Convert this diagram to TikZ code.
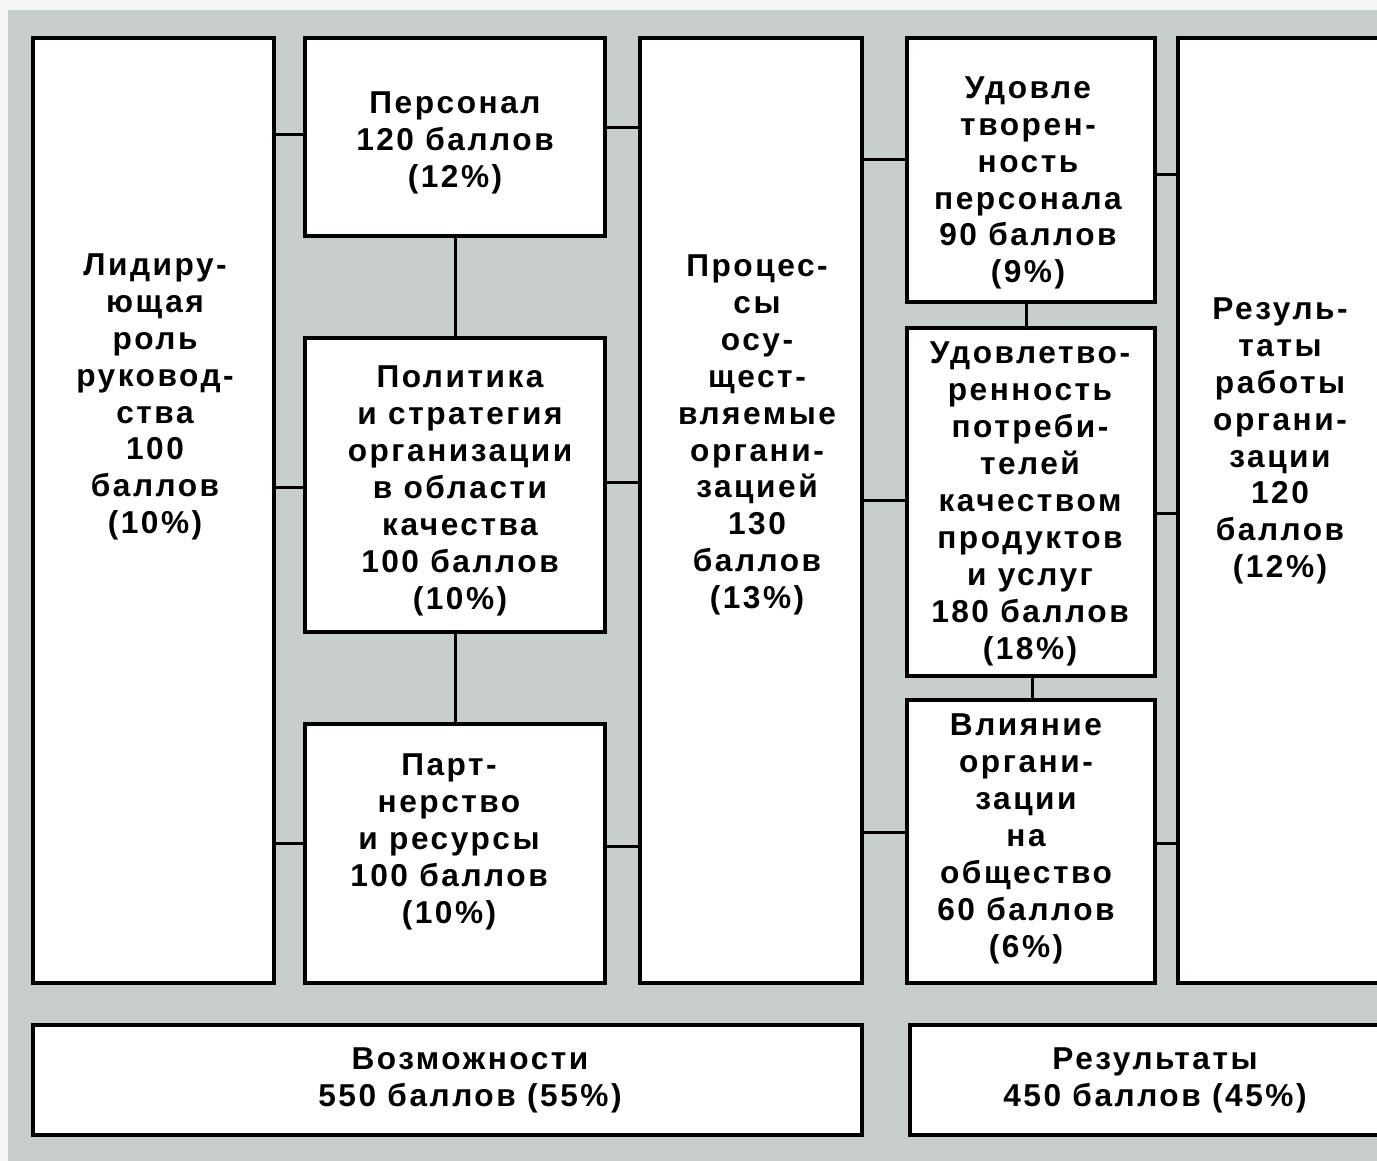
\documentclass[tikz,border=0pt]{standalone}
\usepackage{fontspec}
\setmainfont{Liberation Sans}[LetterSpace=8]
\usetikzlibrary{fit}
\definecolor{bggray}{RGB}{200,205,205}
\definecolor{paper}{RGB}{246,246,246}
\tikzset{every picture/.style={line width=0.6mm}}
\tikzset{
  box/.style={draw=black, fill=white, line width=0.8mm, inner sep=0pt},
  txt/.style={align=center, inner sep=0pt, font=\bfseries\fontsize{18}{21}\selectfont},
  link/.style={line width=0.6mm},
}

\begin{document}
\begin{tikzpicture}[x=0.2mm,y=-0.2mm]
\clip (0,0) rectangle (1377,1161);
\fill[paper] (0,0) rectangle (1377,1161);
\fill[bggray] (8,10) rectangle (1377,1161);
%
\node[box, fit={(33,38) (274,983)}] (lead) {};
\node[box, fit={(305,38) (605,236)}] (staff) {};
\node[box, fit={(305,338) (605,632)}] (policy) {};
\node[box, fit={(305,724) (605,983)}] (partner) {};
\node[box, fit={(640,38) (862,983)}] (process) {};
\node[box, fit={(907,38) (1155,302)}] (staffsat) {};
\node[box, fit={(907,328) (1155,676)}] (custsat) {};
\node[box, fit={(907,700) (1155,983)}] (society) {};
\node[box, fit={(1178,38) (1420,983)}] (results) {};
\node[box, fit={(33,1025) (862,1135)}] (enablers) {};
\node[box, fit={(910,1025) (1420,1135)}] (restotal) {};
%
\draw[link] (lead.east |- 0,135) -- (staff.west |- 0,135);
\draw[link] (lead.east |- 0,488) -- (policy.west |- 0,488);
\draw[link] (lead.east |- 0,843) -- (partner.west |- 0,843);
\draw[link] (staff.south) -- (policy.north);
\draw[link] (policy.south) -- (partner.north);
\draw[link] (staff.east |- 0,128) -- (process.west |- 0,128);
\draw[link] (policy.east |- 0,483) -- (process.west |- 0,483);
\draw[link] (partner.east |- 0,846) -- (process.west |- 0,846);
\draw[link] (process.east |- 0,160) -- (staffsat.west |- 0,160);
\draw[link] (process.east |- 0,501) -- (custsat.west |- 0,501);
\draw[link] (process.east |- 0,832) -- (society.west |- 0,832);
\draw[link] (staffsat.south -| 1026,0) -- (custsat.north -| 1026,0);
\draw[link] (custsat.south -| 1032,0) -- (society.north -| 1032,0);
\draw[link] (staffsat.east |- 0,175) -- (results.west |- 0,175);
\draw[link] (custsat.east |- 0,514) -- (results.west |- 0,514);
\draw[link] (society.east |- 0,843) -- (results.west |- 0,843);
%
\node[txt] (leadtxt) at (155,397) {Лидиру-\\ющая\\роль\\руковод-\\ства\\100\\баллов\\(10\%)};
\node[txt] (stafftxt) at (455,143) {Персонал\\120 баллов\\(12\%)};
\node[txt] (policytxt) at (460,491) {Политика\\и стратегия\\организации\\в области\\качества\\100 баллов\\(10\%)};
\node[txt] (partnertxt) at (449,842) {Парт-\\нерство\\и ресурсы\\100 баллов\\(10\%)};
\node[txt] (processtxt) at (757,435) {Процес-\\сы\\осу-\\щест-\\вляемые\\органи-\\зацией\\130\\баллов\\(13\%)};
\node[txt] (staffsattxt) at (1028,183) {Удовле\\творен-\\ность\\персонала\\90 баллов\\(9\%)};
\node[txt] (custsattxt) at (1030,504) {Удовлетво-\\ренность\\потреби-\\телей\\качеством\\продуктов\\и услуг\\180 баллов\\(18\%)};
\node[txt] (societytxt) at (1026,839) {Влияние\\органи-\\зации\\на\\общество\\60 баллов\\(6\%)};
\node[txt] (resultstxt) at (1280,441) {Резуль-\\таты\\работы\\органи-\\зации\\120\\баллов\\(12\%)};
\node[txt] (enablerstxt) at (470,1080) {Возможности\\550 баллов (55\%)};
\node[txt] (restotaltxt) at (1155,1080) {Результаты\\450 баллов (45\%)};
\end{tikzpicture}
\end{document}
